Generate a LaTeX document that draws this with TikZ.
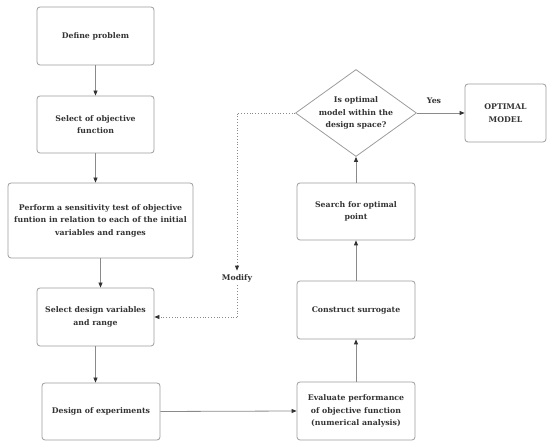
\documentclass[tikz,border=0pt]{standalone}
\usepackage{fontspec}
\setmainfont{DejaVu Serif}
\usetikzlibrary{shapes.geometric,arrows.meta}
\definecolor{boxline}{HTML}{9C9C9C}
\definecolor{txt}{HTML}{333333}
\definecolor{arrline}{HTML}{8A8A8A}
\begin{document}
\begin{tikzpicture}[x=1pt,y=-1pt,
  font=\bfseries\fontsize{7.8}{12.5}\selectfont, text=txt,
  stepbox/.style={draw=boxline, line width=0.8pt, rounded corners=3pt, align=center, inner sep=2pt},
  flow/.style={draw=arrline, line width=0.8pt, -{Triangle[length=5pt,width=4pt,color=txt,fill=txt]}},
  dotflow/.style={draw=arrline, line width=0.8pt, dotted, -{Triangle[length=5pt,width=4pt,color=txt,fill=txt]}},
  dotline/.style={draw=arrline, line width=0.8pt, dotted}]
\useasboundingbox (0,0) rectangle (550,446);
\node[stepbox, minimum width=117pt, minimum height=58pt] (def) at (95.5,36) {Define problem};
\node[stepbox, minimum width=117pt, minimum height=57pt] (sel) at (95.5,124.5) {Select of objective\\function};
\node[stepbox, minimum width=185pt, minimum height=75pt] (perf) at (100.5,220.5) {Perform a sensitivity test of objective\\funtion in relation to each of the initial\\variables and ranges};
\node[stepbox, minimum width=117pt, minimum height=58pt] (desv) at (95.5,317) {Select design variables\\and range};
\node[stepbox, minimum width=118pt, minimum height=57pt] (doe) at (101,411.5) {Design of experiments};
\node[stepbox, minimum width=118pt, minimum height=58pt] (eval) at (356,411) {Evaluate performance\\of objective function\\(numerical analysis)};
\node[stepbox, minimum width=118pt, minimum height=58pt] (cons) at (356,310) {Construct surrogate};
\node[stepbox, minimum width=118pt, minimum height=57pt] (search) at (356,211.5) {Search for optimal\\point};
\node[diamond, draw=boxline, line width=0.8pt, aspect=1.39, inner sep=0pt, minimum width=121pt, minimum height=87pt, align=center] (dec) at (356,113) {Is optimal\\model within the\\design space?};
\node[stepbox, minimum width=81pt, minimum height=58pt] (opt) at (505.5,113) {OPTIMAL\\MODEL};
\node (mod) at (237,278) {Modify};
\node (yes) at (434,101) {Yes};
\coordinate (c1) at (237,113);
\coordinate (c2) at (237,317);
\draw[flow] (def.south) -- (def.south |- sel.north);
\draw[flow] (sel.south) -- (sel.south |- perf.north);
\draw[flow] (perf.south) -- (perf.south |- desv.north);
\draw[flow] (desv.south) -- (desv.south |- doe.north);
\draw[flow] (doe.east) -- (eval.west);
\draw[flow] (eval.north) -- (cons.south);
\draw[flow] (cons.north) -- (search.south);
\draw[flow] (search.north) -- (dec.south);
\draw[flow] (dec.east) -- (opt.west);
\draw[dotflow] (dec.west) -- (c1) -- (mod.north);
\draw[dotline] (mod.south) -- (c2);
\draw[dotflow] (c2) -- (desv.east);
\end{tikzpicture}
\end{document}
